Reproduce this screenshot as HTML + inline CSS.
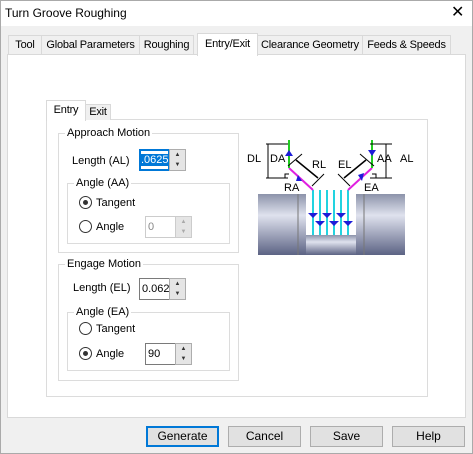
<!DOCTYPE html>
<html><head><meta charset="utf-8"><style>
*{box-sizing:border-box}
body{margin:0;width:473px;height:454px;overflow:hidden;font-family:"Liberation Sans",sans-serif;font-size:11px;color:#000;background:#f0f0f0;position:relative}
.a{position:absolute}
.t{position:absolute;white-space:nowrap;line-height:14px}
.tab{position:absolute;top:35px;height:20px;border:1px solid #d9d9d9;border-bottom:none;background:#f0f0f0;text-align:center;line-height:18px;white-space:nowrap;letter-spacing:-0.2px}
.grp{position:absolute;border:1px solid #dcdcdc}
.lg{position:absolute;background:#fff;padding:0 2px;top:-8px;line-height:14px;white-space:nowrap}
.radio{position:absolute;width:13px;height:13px;border:1px solid #333;border-radius:50%;background:#fff}
.radio.on::after{content:"";position:absolute;left:3px;top:3px;width:5px;height:5px;border-radius:50%;background:#333}
.inp{position:absolute;height:22px;border:1px solid #7a7a7a;background:#fff;line-height:20px;padding-left:2px;overflow:hidden;white-space:nowrap}
.spin{position:absolute;width:17px;height:22px;border:1px solid #adadad;background:#e9e9e9}
.spin div{position:absolute;left:0;width:15px;height:10px;font-size:6px;text-align:center;line-height:10px;color:#333;background:#e5e5e5}
.btn{position:absolute;top:426px;width:73px;height:21px;border:1px solid #adadad;background:#e1e1e1;text-align:center;line-height:19px;font-size:12px}
</style></head><body>
<div class="a" style="left:0;top:0;width:473px;height:26px;background:#fff"></div>
<div class="t" style="left:5px;top:6px;font-size:12px">Turn Groove Roughing</div>
<div class="t" style="left:451px;top:3px;font-size:16px;line-height:20px">✕</div>

<div class="tab" style="left:8px;width:34px">Tool</div>
<div class="tab" style="left:41px;width:99px">Global Parameters</div>
<div class="tab" style="left:139px;width:55px">Roughing</div>
<div class="tab" style="left:257px;width:106px">Clearance Geometry</div>
<div class="tab" style="left:362px;width:89px">Feeds &amp; Speeds</div>
<div class="a" style="left:7px;top:54px;width:459px;height:364px;background:#fff;border:1px solid #d9d9d9"></div>
<div class="tab" style="left:197px;top:33px;width:61px;height:23px;background:#fff;line-height:20px;z-index:2;border-color:#d9d9d9">Entry/Exit</div>

<div class="a" style="left:46px;top:119px;width:382px;height:278px;border:1px solid #dcdcdc"></div>
<div class="tab" style="left:85px;top:104px;width:26px;height:16px;line-height:15px">Exit</div>
<div class="tab" style="left:46px;top:100px;width:40px;height:21px;background:#fff;line-height:19px;z-index:2">Entry</div>

<div class="grp" style="left:58px;top:133px;width:181px;height:120px"><span class="lg" style="left:6px">Approach Motion</span></div>
<div class="t" style="left:72px;top:154px">Length (AL)</div>
<div class="inp" style="left:139px;top:149px;width:31px;border:2px solid #0078d7;padding:0;line-height:18px"><span style="background:#0078d7;color:#fff">.0625</span></div>
<div class="spin" style="left:169px;top:149px"><div style="top:0">▲</div><div style="top:10px">▼</div></div>
<div class="grp" style="left:67px;top:183px;width:163px;height:61px"><span class="lg" style="left:6px">Angle (AA)</span></div>
<div class="radio on" style="left:79px;top:196px"></div>
<div class="t" style="left:96px;top:196px">Tangent</div>
<div class="radio" style="left:79px;top:220px"></div>
<div class="t" style="left:96px;top:220px">Angle</div>
<div class="inp" style="left:145px;top:216px;width:32px;border-color:#ccc;color:#888">0</div>
<div class="spin" style="left:175px;top:216px;border-color:#ccc"><div style="top:0;color:#aaa">▲</div><div style="top:10px;color:#aaa">▼</div></div>

<div class="grp" style="left:58px;top:264px;width:181px;height:117px"><span class="lg" style="left:6px">Engage Motion</span></div>
<div class="t" style="left:73px;top:281px">Length (EL)</div>
<div class="inp" style="left:139px;top:278px;width:31px">0.062</div>
<div class="spin" style="left:169px;top:278px"><div style="top:0">▲</div><div style="top:10px">▼</div></div>
<div class="grp" style="left:67px;top:312px;width:163px;height:59px"><span class="lg" style="left:6px">Angle (EA)</span></div>
<div class="radio" style="left:79px;top:322px"></div>
<div class="t" style="left:96px;top:322px">Tangent</div>
<div class="radio on" style="left:79px;top:347px"></div>
<div class="t" style="left:96px;top:347px">Angle</div>
<div class="inp" style="left:145px;top:343px;width:32px">90</div>
<div class="spin" style="left:175px;top:343px"><div style="top:0">▲</div><div style="top:10px">▼</div></div>

<svg class="a" style="left:240px;top:110px" width="180" height="150" viewBox="0 0 180 150" font-family="Liberation Sans" font-size="11">
<defs><linearGradient id="g" x1="0" y1="0" x2="0" y2="1"><stop offset="0" stop-color="#8c93aa"/><stop offset=".35" stop-color="#dfe2ee"/><stop offset="1" stop-color="#5c6384"/></linearGradient></defs>
<rect x="18" y="84" width="48" height="61" fill="url(#g)"/>
<rect x="116" y="84" width="49" height="61" fill="url(#g)"/>
<rect x="66" y="125" width="50" height="20" fill="url(#g)"/>
<line x1="58" y1="84" x2="58" y2="145" stroke="#777"/><line x1="124" y1="84" x2="124" y2="145" stroke="#777"/>
<g stroke="#22d3e0" stroke-width="2"><line x1="73" y1="80" x2="73" y2="125"/><line x1="80" y1="80" x2="80" y2="125"/><line x1="87" y1="80" x2="87" y2="125"/><line x1="94" y1="80" x2="94" y2="125"/><line x1="101" y1="80" x2="101" y2="125"/><line x1="108" y1="80" x2="108" y2="125"/></g>
<g fill="#1d1dd8"><path d="M68,103h10l-5,5z"/><path d="M75,111h10l-5,5z"/><path d="M82,103h10l-5,5z"/><path d="M89,111h10l-5,5z"/><path d="M96,103h10l-5,5z"/><path d="M103,111h10l-5,5z"/></g>
<g stroke="#e020e0" stroke-width="2"><line x1="49" y1="58" x2="73" y2="80"/><line x1="132" y1="58" x2="108" y2="80"/></g>
<g stroke="#22cc22" stroke-width="2"><line x1="49" y1="30" x2="49" y2="58"/><line x1="132" y1="30" x2="132" y2="58"/></g>
<g fill="#1d1dd8"><path d="M45,46h8l-4,-6z"/><path d="M128,40h8l-4,6z"/><path d="M56,71l6,0l-4,-6z"/><path d="M118,65l4,6l2,-8z"/></g>
<g stroke="#000" fill="none"><path d="M26,34h22M26,68h22M28,34v34"/><path d="M130,34h22M130,68h22M146,34v34"/>
<line x1="62" y1="44" x2="48" y2="56"/><line x1="84" y1="64" x2="72" y2="76"/><line x1="56" y1="50" x2="78" y2="68" stroke-width="1.5"/>
<line x1="120" y1="44" x2="134" y2="56"/><line x1="98" y1="64" x2="110" y2="76"/><line x1="126" y1="50" x2="104" y2="68" stroke-width="1.5"/>
<path d="M45,68v-4h4M136,68v-4h-4"/></g>
<text x="7" y="52">DL</text><text x="30" y="52">DA</text><text x="72" y="58">RL</text><text x="98" y="58">EL</text><text x="137" y="52">AA</text><text x="160" y="52">AL</text><text x="44" y="81">RA</text><text x="124" y="81">EA</text>
</svg>

<div class="btn" style="left:146px;border:2px solid #0078d7;line-height:17px">Generate</div>
<div class="btn" style="left:228px">Cancel</div>
<div class="btn" style="left:310px">Save</div>
<div class="btn" style="left:392px">Help</div>
<div class="a" style="left:0;top:0;width:473px;height:454px;border:1px solid #aaa"></div>
</body></html>
